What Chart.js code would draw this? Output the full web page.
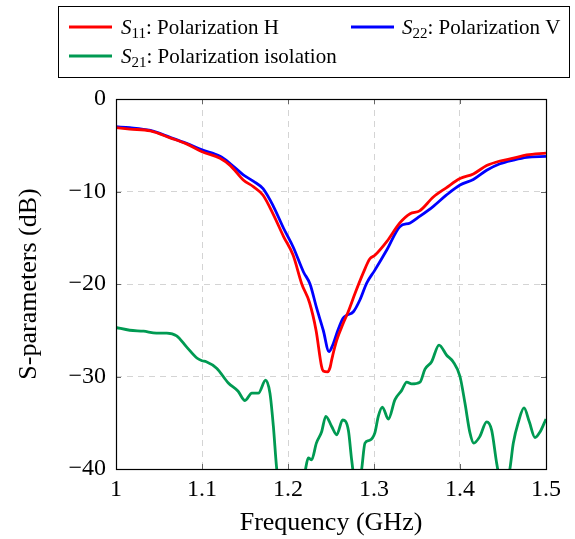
<!DOCTYPE html>
<html><head><meta charset="utf-8">
<script src="https://cdn.jsdelivr.net/npm/chart.js@4/dist/chart.umd.min.js"></script>
<style>html,body{margin:0;padding:0;background:#fff}#wrap{width:575px;height:539px;position:relative}</style>
</head><body><div id="wrap"><canvas id="c" width="575" height="539"></canvas></div>
<script>
// ---- data ----
const s11Freq = [1.00,1.016,1.04,1.063,1.082,1.10,1.121,1.133,1.148,1.16,1.171,1.183,1.195,1.206,1.216,1.225,1.2326,1.239,1.241,1.246,1.249,1.2508,1.2566,1.264,1.27,1.278,1.2875,1.295,1.301,1.315,1.33,1.342,1.353,1.369,1.384,1.40,1.4155,1.431,1.4465,1.462,1.4775,1.50];
const s11dB   = [-3.1,-3.25,-3.45,-4.2,-4.85,-5.7,-6.4,-7.2,-8.75,-9.5,-10.4,-12.5,-14.9,-16.9,-20.0,-22.0,-25.0,-28.9,-29.4,-29.5,-29.0,-28.2,-26.1,-24.3,-23.0,-21.0,-18.8,-17.3,-16.9,-15.4,-13.4,-12.4,-12.1,-10.6,-9.6,-8.6,-8.1,-7.2,-6.7,-6.4,-6.05,-5.85];
const s22Freq = [1.00,1.016,1.04,1.063,1.082,1.10,1.121,1.133,1.148,1.16,1.171,1.183,1.195,1.206,1.218,1.2256,1.233,1.241,1.2477,1.252,1.258,1.264,1.268,1.276,1.2837,1.2915,1.301,1.315,1.33,1.342,1.353,1.369,1.384,1.40,1.4155,1.431,1.4465,1.462,1.4775,1.50];
const s22dB   = [-3.0,-3.1,-3.4,-4.15,-4.8,-5.5,-6.2,-7.0,-8.2,-8.9,-9.7,-11.6,-14.0,-16.0,-18.7,-20.0,-22.5,-25.0,-27.3,-26.6,-25.0,-23.7,-23.4,-23.0,-21.7,-19.9,-18.5,-16.3,-13.8,-13.4,-12.7,-11.6,-10.4,-9.3,-8.7,-7.7,-7.0,-6.6,-6.3,-6.2];
const s21Freq = [1.00,1.016,1.032,1.047,1.059,1.0705,1.082,1.094,1.10,1.105,1.117,1.1306,1.142,1.15,1.158,1.1655,1.174,1.179,1.183,1.187,1.195,1.205,1.214,1.22,1.2236,1.2275,1.233,1.239,1.244,1.2508,1.2566,1.2636,1.2702,1.274,1.2805,1.2857,1.2895,1.295,1.301,1.305,1.3097,1.3167,1.3244,1.3322,1.338,1.3438,1.3535,1.3593,1.367,1.3756,1.3845,1.392,1.40,1.4058,1.4116,1.416,1.423,1.431,1.4368,1.4427,1.451,1.458,1.462,1.468,1.4744,1.4806,1.4872,1.493,1.50];
const s21dB   = [-24.7,-25.0,-25.1,-25.3,-25.3,-25.6,-26.8,-28.0,-28.3,-28.4,-29.1,-30.7,-31.6,-32.6,-31.8,-31.8,-30.4,-31.8,-35.4,-40.1,-44,-45,-43,-40.2,-38.8,-39.0,-37.2,-36.0,-34.3,-35.4,-36.3,-34.7,-35.8,-39.0,-43,-40,-37.2,-36.9,-36.1,-34.3,-33.3,-34.6,-32.5,-31.5,-30.6,-30.8,-30.6,-29.2,-28.4,-26.6,-27.7,-28.4,-30.0,-32.9,-36.1,-37.2,-36.5,-34.9,-35.8,-39.4,-43,-40,-37.2,-34.9,-33.4,-34.9,-36.6,-36.0,-34.6];
const xTicks = [1, 1.1, 1.2, 1.3, 1.4, 1.5];
const yTicks = [0, -10, -20, -30, -40];
const seriesNames = [
  {sym:'S', sub:'11', text:': Polarization H'},
  {sym:'S', sub:'22', text:': Polarization V'},
  {sym:'S', sub:'21', text:': Polarization isolation'}
];
const colors = ['#ff0000', '#0000ff', '#009a52'];

const pts = (f, v) => f.map((x, i) => ({x, y: v[i]}));
const SERIF = '"Liberation Serif", "DejaVu Serif", serif';

const framePlugin = {
  id: 'frame',
  afterDatasetsDraw(chart) {
    const {ctx, chartArea: a, scales} = chart;
    ctx.save();
    ctx.strokeStyle = '#666';
    ctx.lineWidth = 1;
    const L = 5;
    xTicks.forEach(v => {
      const p = Math.round(scales.x.getPixelForValue(v)) + 0.5;
      ctx.beginPath();
      ctx.moveTo(p, a.bottom); ctx.lineTo(p, a.bottom - L);
      ctx.moveTo(p, a.top); ctx.lineTo(p, a.top + L);
      ctx.stroke();
    });
    yTicks.forEach(v => {
      const p = Math.round(scales.y.getPixelForValue(v)) + 0.5;
      ctx.beginPath();
      ctx.moveTo(a.left, p); ctx.lineTo(a.left + L, p);
      ctx.moveTo(a.right, p); ctx.lineTo(a.right - L, p);
      ctx.stroke();
    });
    ctx.strokeStyle = '#000';
    ctx.lineWidth = 1.2;
    ctx.strokeRect(Math.round(a.left) + 0.5, Math.round(a.top) + 0.5, Math.round(a.right - a.left), Math.round(a.bottom - a.top));
    ctx.restore();
  }
};

const legendPlugin = {
  id: 'boxLegend',
  afterDraw(chart) {
    const ctx = chart.ctx;
    ctx.save();
    ctx.strokeStyle = '#000';
    ctx.lineWidth = 1;
    ctx.strokeRect(58.5, 6.5, 511, 71);
    const pos = [{x: 69, y: 27, tx: 121}, {x: 351, y: 27, tx: 402}, {x: 69, y: 56, tx: 121}];
    chart.data.datasets.forEach((ds, i) => {
      const p = pos[i];
      ctx.strokeStyle = ds.borderColor;
      ctx.lineWidth = 3;
      ctx.beginPath(); ctx.moveTo(p.x, p.y); ctx.lineTo(p.x + 43, p.y); ctx.stroke();
      const n = seriesNames[i];
      let tx = p.tx;
      const base = p.y + 7;
      ctx.fillStyle = '#000';
      ctx.textBaseline = 'alphabetic';
      ctx.font = 'italic 21px ' + SERIF;
      ctx.fillText(n.sym, tx, base); tx += ctx.measureText(n.sym).width;
      ctx.font = '15px ' + SERIF;
      ctx.fillText(n.sub, tx, base + 4); tx += ctx.measureText(n.sub).width;
      ctx.font = '21px ' + SERIF;
      ctx.fillText(n.text, tx, base);
    });
    ctx.restore();
  }
};

const fmt = v => (v < 0 ? '\u2212' + Math.abs(v) : String(v));

new Chart(document.getElementById('c'), {
  type: 'line',
  data: {
    datasets: [
      {label: 'S11: Polarization H', data: pts(s11Freq, s11dB), borderColor: colors[0]},
      {label: 'S22: Polarization V', data: pts(s22Freq, s22dB), borderColor: colors[1]},
      {label: 'S21: Polarization isolation', data: pts(s21Freq, s21dB), borderColor: colors[2]}
    ]
  },
  options: {
    responsive: false,
    animation: false,
    parsing: false,
    elements: {
      point: {radius: 0},
      line: {borderWidth: 2.8, tension: 0, cubicInterpolationMode: 'monotone', fill: false}
    },
    layout: {padding: {top: 99, right: 29, left: 0, bottom: 0}},
    plugins: {legend: {display: false}, tooltip: {enabled: false}},
    scales: {
      x: {
        type: 'linear', min: 1, max: 1.5,
        afterBuildTicks: s => { s.ticks = xTicks.map(v => ({value: v})); },
        afterFit: s => { s.height = 70; },
        grid: {color: '#d4d4d4', lineWidth: 1, drawTicks: false},
        border: {display: false, dash: [6, 5]},
        ticks: {padding: 6, color: '#000', font: {family: SERIF, size: 24}, callback: v => fmt(v), maxRotation: 0},
        title: {display: true, text: 'Frequency (GHz)', color: '#000', font: {family: SERIF, size: 26}, padding: {top: 0, bottom: 0}}
      },
      y: {
        type: 'linear', min: -40, max: 0,
        afterBuildTicks: s => { s.ticks = yTicks.map(v => ({value: v})); },
        afterFit: s => { s.width = 116; },
        grid: {color: '#d4d4d4', lineWidth: 1, drawTicks: false},
        border: {display: false, dash: [6, 5]},
        ticks: {padding: 10, color: '#000', font: {family: SERIF, size: 24}, callback: v => fmt(v)},
        title: {display: true, text: 'S-parameters (dB)', color: '#000', font: {family: SERIF, size: 26}, padding: {top: 14, bottom: 0}}
      }
    }
  },
  plugins: [framePlugin, legendPlugin]
});
</script>
</body></html>
